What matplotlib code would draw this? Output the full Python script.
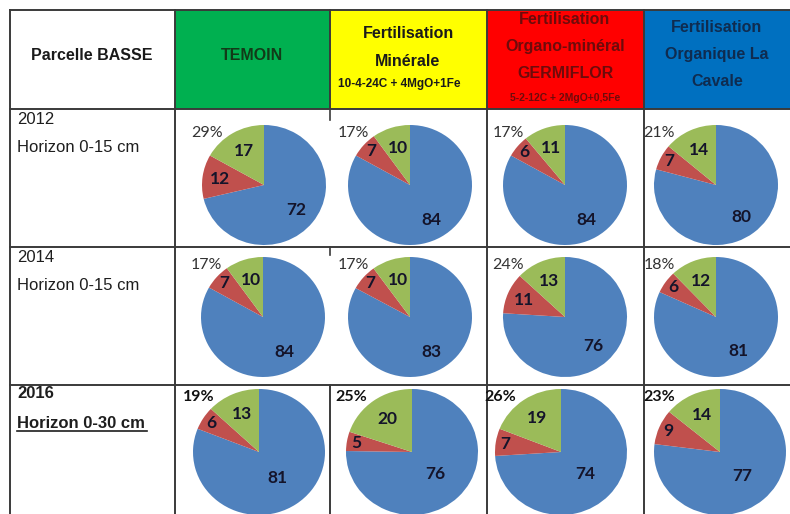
import numpy as np
import matplotlib.pyplot as plt

# Données (bleu / rouge / vert), une ligne par année
annees = ["2012", "2014", "2016"]
horizons = ["Horizon 0-15 cm", "Horizon 0-15 cm", "Horizon 0-30 cm"]
bleu = [[72, 84, 84, 80],
        [84, 83, 76, 81],
        [81, 76, 74, 77]]
rouge = [[12, 7, 6, 7],
         [7, 7, 11, 6],
         [6, 5, 7, 9]]
vert = [[17, 10, 11, 14],
        [10, 10, 13, 12],
        [13, 20, 19, 14]]

couleurs = ["#4f81bd", "#c0504d", "#9bbb59"]

W, H = 790, 514
fig = plt.figure(figsize=(W / 100, H / 100), dpi=100)
bg = fig.add_axes([0, 0, 1, 1])
bg.set_xlim(0, W)
bg.set_ylim(H, 0)
bg.axis("off")

# grille du tableau (pixels)
xs = [10, 175, 330, 487, 644, W]
ys = [10, 109, 247, 385, H]
trait = "#3a3a3a"

# en-têtes colorés
fonds = ["#00b050", "#ffff00", "#ff0000", "#0070c0"]
for i, c in enumerate(fonds):
    bg.add_patch(plt.Rectangle((xs[i + 1], ys[0]), xs[i + 2] - xs[i + 1], ys[1] - ys[0],
                               facecolor=c, edgecolor="none"))

for y in ys[:-1]:
    bg.plot([xs[0], W], [y, y], color=trait, lw=1.4)
for x in [10, 175, 487, 644]:
    bg.plot([x, x], [ys[0], H], color=trait, lw=1.4)
bg.plot([330, 330], [ys[0], ys[1]], color=trait, lw=1.4)
bg.plot([330, 330], [ys[3], H], color=trait, lw=1.4)
bg.plot([330, 330], [ys[1], ys[1] + 11], color=trait, lw=1.2)
bg.plot([330, 330], [ys[2], ys[2] + 8], color=trait, lw=1.2)

ft = "Liberation Sans"
bg.text(92, 56, "Parcelle BASSE", ha="center", va="center", fontsize=11.5,
        fontweight="bold", family=ft, color="#1a1a1a")
bg.text(252, 56, "TEMOIN", ha="center", va="center", fontsize=11.5,
        fontweight="bold", family=ft, color="#123a18")
bg.text(408, 33, "Fertilisation", ha="center", va="center", fontsize=11.5,
        fontweight="bold", family=ft, color="#1a1a1a")
bg.text(408, 61, "Minérale", ha="center", va="center", fontsize=11.5,
        fontweight="bold", family=ft, color="#1a1a1a")
bg.text(399, 84, "10-4-24C + 4MgO+1Fe", ha="center", va="center", fontsize=8.5,
        fontweight="bold", family=ft, color="#1a1a1a")
rouge_txt = "#6e0b0b"
bg.text(565, 19, "Fertilisation", ha="center", va="center", fontsize=11.5,
        fontweight="bold", family=ft, color=rouge_txt)
bg.text(565, 47, "Organo-minéral", ha="center", va="center", fontsize=11.5,
        fontweight="bold", family=ft, color=rouge_txt)
bg.text(565, 74, "GERMIFLOR", ha="center", va="center", fontsize=11.5,
        fontweight="bold", family=ft, color=rouge_txt)
bg.text(565, 98, "5-2-12C + 2MgO+0,5Fe", ha="center", va="center", fontsize=7.5,
        fontweight="bold", family=ft, color=rouge_txt)
bleu_txt = "#0f2c50"
bg.text(717, 27, "Fertilisation", ha="center", va="center", fontsize=11.5,
        fontweight="bold", family=ft, color=bleu_txt)
bg.text(717, 55, "Organique La", ha="center", va="center", fontsize=11.5,
        fontweight="bold", family=ft, color=bleu_txt)
bg.text(717, 82, "Cavale", ha="center", va="center", fontsize=11.5,
        fontweight="bold", family=ft, color=bleu_txt)

# libellés de lignes
lignes_y = [(120, 147), (257, 285), (394, 423)]
for r in range(3):
    gras = "bold" if r == 2 else "normal"
    y1, y2 = lignes_y[r]
    bg.text(17, y1, annees[r], ha="left", va="center", fontsize=12,
            fontweight=gras, family=ft, color="#1e1e1e")
    bg.text(17, y2, horizons[r], ha="left", va="center", fontsize=12,
            fontweight=gras, family=ft, color="#1e1e1e")
bg.plot([17, 147], [431, 431], color="#1e1e1e", lw=1.2)

# camemberts
centres_x = [[264, 410, 565, 716], [263, 410, 565, 716], [259, 412, 561, 720]]
centres_y = [185, 317, 452]
rayons = [(62, 60), (62, 60), (66, 63)]
dist_bleu = [0.67, 0.67, 0.5]

for r in range(3):
    rx, ry = rayons[r]
    for c in range(4):
        cx, cy = centres_x[r][c], centres_y[r]
        ax = fig.add_axes([(cx - rx) / W, 1 - (cy + ry) / H, 2 * rx / W, 2 * ry / H])
        vals = [bleu[r][c], rouge[r][c], vert[r][c]]
        wedges, _ = ax.pie(vals, colors=couleurs, startangle=90, counterclock=False,
                           radius=1, wedgeprops=dict(linewidth=0))
        ax.set_xlim(-1, 1)
        ax.set_ylim(-1, 1)
        ax.set_aspect("auto")
        ax.axis("off")
        tot = sum(vals)
        for k, (w, v) in enumerate(zip(wedges, vals)):
            mid = np.deg2rad((w.theta1 + w.theta2) / 2)
            if k == 0:
                d = dist_bleu[r]
            elif k == 1:
                d = 0.85 if v / tot < 0.1 else 0.72
            else:
                d = 0.65
            ax.text(d * np.cos(mid), d * np.sin(mid), str(v), ha="center", va="center",
                    fontsize=12.5, fontweight="bold", family="Lato", color="#14142a")
        pct = rouge[r][c] + vert[r][c]
        ax.text(-0.92, 0.87, f"{pct}%", ha="center", va="center", fontsize=11.5,
                fontweight="bold" if r == 2 else "normal", family="Lato",
                color="#111111" if r == 2 else "#333333", clip_on=False)

fig.savefig("out.png", dpi=100)
